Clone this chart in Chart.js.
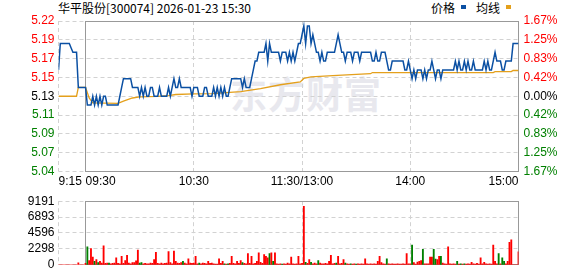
<!DOCTYPE html>
<html>
<head>
<meta charset="utf-8">
<script src="https://cdn.jsdelivr.net/npm/chart.js@4.4.1/dist/chart.umd.min.js"></script>
<style>
  html, body { margin: 0; padding: 0; background: #fff; }
  #wrap { position: relative; width: 578px; height: 276px; overflow: hidden; }
  #title { position: absolute; left: 58px; top: 0; font: 12px/16px "Noto Sans CJK SC", sans-serif; color: #000; white-space: nowrap; }
  #legend { position: absolute; left: 431px; top: 0; font: 12px/16px "Noto Sans CJK SC", sans-serif; color: #000; white-space: nowrap; }
  #legend i { display: inline-block; width: 5px; height: 4px; vertical-align: top; margin: 5px 10px 0 6px; }
  #mark { position: absolute; left: 230px; top: 73px; font: bold 37px/40px "Noto Sans CJK SC", sans-serif; color: #e8e8ee; letter-spacing: 1px; white-space: nowrap; }
  canvas { position: absolute; left: 0; }
  #priceChart { top: 0; }
  #volChart { top: 190px; }
</style>
</head>
<body>
<div id="wrap">
  <div id="mark">东方财富</div>
  <div id="title">华平股份[300074] 2026-01-23 15:30</div>
  <div id="legend">价格<i style="background:#0b50a3"></i>均线<i style="background:#e4a01c"></i></div>
  <canvas id="priceChart" width="578" height="190"></canvas>
  <canvas id="volChart" width="578" height="86"></canvas>
</div>
<script>
const prevClose = 5.13;
const pctRange = 0.0167;
const priceLabels = ['5.04', '5.07', '5.09', '5.11', '5.13', '5.15', '5.17', '5.19', '5.22'];
const pctLabels = ['1.67%', '1.25%', '0.83%', '0.42%', '0.00%', '0.42%', '0.83%', '1.25%', '1.67%'];
const volTicks = [0, 2298, 4596, 6893, 9191];
const timeLabels = ['9:15', '09:30', '10:30', '11:30/13:00', '14:00', '15:00'];
const timeMinutes = [-15, 0, 60, 120, 180, 240];

// call auction 9:15 - 9:29, one value per minute
const prePrice = [5.16, 5.19, 5.19, 5.19, 5.19, 5.19, 5.19, 5.185, 5.18, 5.18, 5.18, 5.14, 5.14, 5.14, 5.14];
const preVolume = [0, 0, 0, 0, 0, 0, 0, 0, 0, 0, 0, 290, 0, 0, 0];

// 9:30 .. 11:30, 13:01 .. 15:00
const price = [
  5.14, 5.12, 5.12, 5.12, 5.13, 5.12, 5.13, 5.12, 5.13, 5.12,
  5.13, 5.13, 5.12, 5.12, 5.12, 5.12, 5.12, 5.12, 5.12, 5.13,
  5.14, 5.15, 5.15, 5.15, 5.15, 5.15, 5.14, 5.14, 5.14, 5.14,
  5.13, 5.14, 5.13, 5.14, 5.13, 5.13, 5.14, 5.14, 5.13, 5.13,
  5.13, 5.14, 5.13, 5.13, 5.13, 5.13, 5.14, 5.13, 5.14, 5.15,
  5.14, 5.14, 5.15, 5.14, 5.14, 5.14, 5.14, 5.14, 5.14, 5.13,
  5.14, 5.14, 5.14, 5.13, 5.13, 5.13, 5.14, 5.14, 5.13, 5.13,
  5.13, 5.14, 5.13, 5.14, 5.13, 5.14, 5.13, 5.14, 5.13, 5.13,
  5.14, 5.15, 5.15, 5.15, 5.15, 5.15, 5.15, 5.14, 5.15, 5.14,
  5.14, 5.14, 5.15, 5.16, 5.17, 5.17, 5.18, 5.18, 5.18, 5.18,
  5.19, 5.17, 5.19, 5.18, 5.18, 5.18, 5.18, 5.18, 5.17, 5.18,
  5.18, 5.18, 5.17, 5.18, 5.17, 5.18, 5.17, 5.18, 5.19, 5.19,
  5.20, 5.21, 5.19, 5.21, 5.21, 5.19, 5.20, 5.19, 5.18, 5.18,
  5.17, 5.18, 5.17, 5.17, 5.18, 5.18, 5.18, 5.18, 5.18, 5.19,
  5.20, 5.19, 5.18, 5.18, 5.17, 5.18, 5.18, 5.18, 5.17, 5.18,
  5.18, 5.18, 5.17, 5.18, 5.18, 5.18, 5.18, 5.18, 5.18, 5.17,
  5.17, 5.18, 5.17, 5.17, 5.18, 5.18, 5.18, 5.17, 5.16, 5.16,
  5.17, 5.17, 5.17, 5.17, 5.17, 5.17, 5.17, 5.16, 5.16, 5.17,
  5.16, 5.15, 5.16, 5.15, 5.16, 5.16, 5.16, 5.15, 5.16, 5.15,
  5.16, 5.16, 5.17, 5.16, 5.15, 5.16, 5.16, 5.15, 5.16, 5.16,
  5.16, 5.16, 5.16, 5.16, 5.16, 5.17, 5.16, 5.17, 5.16, 5.16,
  5.17, 5.16, 5.17, 5.16, 5.16, 5.17, 5.16, 5.16, 5.16, 5.16,
  5.16, 5.17, 5.16, 5.17, 5.16, 5.16, 5.17, 5.18, 5.17, 5.17,
  5.17, 5.16, 5.16, 5.17, 5.17, 5.17, 5.17, 5.19, 5.19, 5.19,
  5.19
];

const avgMinutes = [-15, -5, -4, 0, 2, 4, 18, 21, 26, 30, 40, 46, 50, 60, 70, 86, 97, 108, 119, 121, 125, 137, 158, 159, 226, 227, 236, 237, 240];
const avgPrice = [5.13, 5.13, 5.14, 5.14, 5.128, 5.1225, 5.122, 5.1245, 5.128, 5.1294, 5.1298, 5.1306, 5.132, 5.1328, 5.133, 5.1352, 5.1386, 5.1431, 5.1463, 5.1503, 5.152, 5.1535, 5.1557, 5.157, 5.157, 5.158, 5.158, 5.1593, 5.1593];

const volume = [
  200, 2600, 620, 2360, 1120, 500, 745, 330, 500, 250,
  2730, 200, 250, 250, 150, 200, 250, 990, 200, 150,
  1240, 200, 620, 1370, 250, 150, 330, 330, 580, 2110,
  250, 330, 150, 200, 150, 150, 250, 200, 745, 1820,
  200, 150, 250, 150, 200, 250, 1900, 330, 150, 1990,
  500, 250, 200, 330, 500, 250, 150, 870, 250, 200,
  250, 1240, 150, 250, 150, 250, 200, 150, 500, 200,
  250, 150, 120, 120, 870, 200, 500, 150, 120, 150,
  200, 1240, 200, 150, 500, 200, 620, 330, 200, 150,
  1610, 200, 1240, 150, 200, 500, 1740, 370, 200, 1490,
  1240, 990, 1610, 1740, 500, 1740, 150, 120, 150, 120,
  150, 120, 250, 150, 1120, 150, 120, 150, 1240, 150,
  200, 8446, 370, 200, 745, 370, 150, 250, 150, 620,
  250, 150, 150, 200, 150, 500, 1370, 150, 200, 250,
  1240, 150, 200, 745, 250, 150, 120, 150, 120, 150,
  120, 150, 120, 150, 120, 870, 150, 120, 150, 120,
  150, 120, 500, 1240, 330, 150, 120, 870, 150, 120,
  150, 120, 120, 150, 120, 120, 150, 120, 1610, 150,
  150, 2860, 330, 120, 410, 500, 620, 2240, 150, 150,
  150, 1120, 1120, 2240, 830, 745, 1240, 1240, 250, 150,
  120, 2610, 150, 120, 150, 120, 500, 120, 150, 120,
  150, 120, 150, 120, 370, 150, 120, 200, 120, 990,
  150, 370, 150, 120, 150, 120, 2860, 500, 150, 1610,
  150, 990, 500, 150, 500, 3230, 3600, 0, 0, 0,
  1860
];
const downMinutes = [1, 5, 7, 13, 30, 31, 54, 63, 77, 79, 87, 102, 104, 109, 122, 125, 129, 139, 144, 147, 150, 167, 181, 187, 193, 194, 197, 206, 208, 210, 229, 231, 232];

Chart.defaults.font.family = '"Liberation Sans", Arial, sans-serif';
Chart.defaults.font.size = 12;
Chart.defaults.color = '#000';

const RED = '#ff0000';
const GREEN = '#008000';

const gridPlugin = {
  id: 'boxGrid',
  beforeDatasetsDraw(chart) {
    const { ctx, chartArea: a } = chart;
    const xs = chart.scales.x, ys = chart.scales.y;
    const crisp = v => Math.floor(v) + 0.5;
    ctx.save();
    ctx.lineWidth = 1;
    ctx.strokeStyle = '#d2d2d2';
    ctx.setLineDash([4, 3]);
    ys.ticks.forEach(t => {
      const y = crisp(ys.getPixelForValue(t.value));
      ctx.beginPath(); ctx.moveTo(a.left, y); ctx.lineTo(a.right, y); ctx.stroke();
    });
    timeMinutes.forEach(m => {
      const x = crisp(xs.getPixelForValue(m));
      ctx.beginPath(); ctx.moveTo(x, a.top); ctx.lineTo(x, a.bottom); ctx.stroke();
    });
    ctx.setLineDash([]);
    ctx.strokeStyle = '#999';
    const l = crisp(xs.getPixelForValue(0)), r = crisp(xs.getPixelForValue(240));
    const t = crisp(a.top), b = crisp(a.bottom);
    ctx.strokeRect(l, t, r - l, b - t);
    ctx.restore();
  },
  afterDraw(chart, args, opts) {
    if (!opts.timeAxis) return;
    const { ctx, chartArea: a } = chart;
    const xs = chart.scales.x;
    const aligns = ['left', 'left', 'center', 'center', 'center', 'right'];
    ctx.save();
    ctx.font = '12px "Liberation Sans", Arial, sans-serif';
    ctx.fillStyle = '#000';
    ctx.textBaseline = 'middle';
    timeLabels.forEach((lab, i) => {
      ctx.textAlign = aligns[i];
      ctx.fillText(lab, xs.getPixelForValue(timeMinutes[i]), a.bottom + 10);
    });
    ctx.restore();
  }
};

const priceMin = prevClose * (1 - pctRange);
const priceMax = prevClose * (1 + pctRange);
const evenTicks = (n) => (s) => { s.ticks = Array.from({ length: n }, (_, i) => ({ value: s.min + (s.max - s.min) * i / (n - 1) })); };
const sideColor = (c) => c.index < 4 ? GREEN : (c.index === 4 ? '#000' : RED);

const priceData = prePrice.map((p, i) => ({ x: i - 15, y: p })).concat(price.map((p, i) => ({ x: i, y: p })));
const avgData = avgMinutes.map((m, i) => ({ x: m, y: avgPrice[i] }));

new Chart(document.getElementById('priceChart'), {
  type: 'line',
  data: {
    datasets: [{
      label: '价格',
      data: priceData,
      borderColor: '#0b50a3',
      borderWidth: 1.5,
      pointRadius: 0,
      tension: 0
    }, {
      label: '均线',
      data: avgData,
      borderColor: '#e4a01c',
      borderWidth: 1.3,
      pointRadius: 0,
      tension: 0
    }]
  },
  options: {
    responsive: false,
    animation: false,
    layout: { padding: { top: 21, bottom: 18.5 }, autoPadding: false },
    scales: {
      x: { type: 'linear', min: -15, max: 240, offset: false, display: false },
      y: {
        position: 'left',
        min: priceMin,
        max: priceMax,
        afterBuildTicks: evenTicks(9),
        afterFit: s => { s.width = 58.5; },
        grid: { display: false, drawTicks: false },
        border: { display: false },
        ticks: {
          autoSkip: false,
          padding: 4,
          color: sideColor,
          callback: (v, i) => priceLabels[i]
        }
      },
      y2: {
        position: 'right',
        min: priceMin,
        max: priceMax,
        afterBuildTicks: evenTicks(9),
        afterFit: s => { s.width = 59.5; },
        grid: { display: false, drawTicks: false },
        border: { display: false },
        ticks: {
          autoSkip: false,
          padding: 5,
          color: sideColor,
          callback: (v, i) => pctLabels[i]
        }
      }
    },
    plugins: {
      legend: { display: false },
      tooltip: { enabled: false },
      boxGrid: { timeAxis: true }
    }
  },
  plugins: [gridPlugin]
});

const downSet = new Set(downMinutes);
const volData = preVolume.map((v, i) => ({ x: i - 15, y: v })).concat(volume.map((v, i) => ({ x: i, y: v })));

new Chart(document.getElementById('volChart'), {
  type: 'bar',
  data: {
    datasets: [{
      label: '成交量',
      data: volData,
      backgroundColor: c => downSet.has(c.raw.x) ? GREEN : RED,
      barThickness: 1.2,
      borderWidth: 0
    }]
  },
  options: {
    responsive: false,
    animation: false,
    layout: { padding: { top: 6, bottom: 6, right: 59.5 }, autoPadding: false },
    scales: {
      x: { type: 'linear', min: -15, max: 240, offset: false, display: false },
      y: {
        min: 0,
        max: volTicks[volTicks.length - 1],
        afterBuildTicks: s => { s.ticks = volTicks.map(v => ({ value: v })); },
        afterFit: s => { s.width = 58.5; },
        grid: { display: false, drawTicks: false },
        border: { display: false },
        ticks: { autoSkip: false, padding: 4, color: '#000', callback: v => String(v) }
      }
    },
    plugins: {
      legend: { display: false },
      tooltip: { enabled: false },
      boxGrid: { timeAxis: false }
    }
  },
  plugins: [gridPlugin]
});
</script>
</body>
</html>
